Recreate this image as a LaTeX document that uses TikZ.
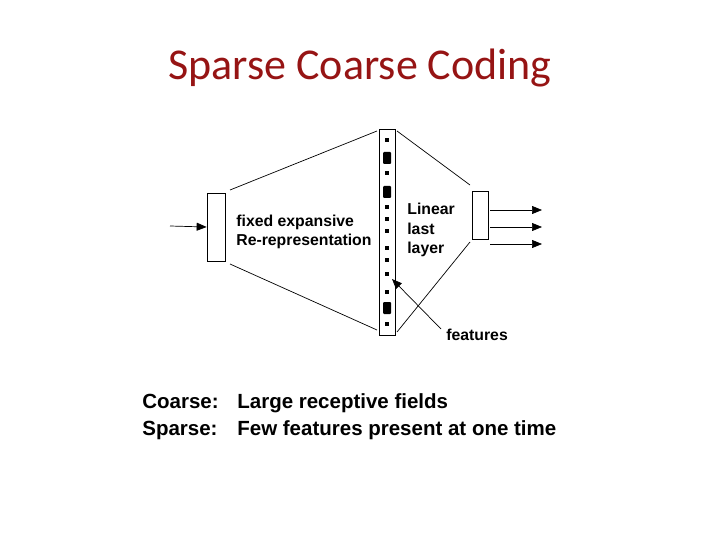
\documentclass[tikz,border=0pt]{standalone}
\usepackage{fontspec}
\setmainfont{Liberation Sans}
\newfontfamily\titlefont{Carlito}
\definecolor{tred}{RGB}{150,20,20}
\usetikzlibrary{arrows.meta}
\begin{document}
\begin{tikzpicture}[x=1pt,y=-1pt,line width=0.7pt,
  lbl/.style={font=\bfseries\fontsize{15.8}{19.5}\selectfont, align=left, inner sep=0},
  arr/.style={-{Triangle[length=10pt,width=8pt]}},
  dotm/.style={fill=black, minimum width=3.5pt, minimum height=3.5pt, inner sep=0},
  bigm/.style={fill=black, minimum width=8pt, minimum height=12pt, inner sep=0, rounded corners=1pt}]
\useasboundingbox (0,0) rectangle (720,540);
\node[text=tred, font=\titlefont\fontsize{44}{52}\selectfont] (title) at (360,68) {Sparse Coarse Coding};
\node[draw, minimum width=18pt, minimum height=68pt, inner sep=0] (inbox) at (216,227) {};
\node[draw, minimum width=16pt, minimum height=206pt, inner sep=0] (col) at (387,232) {};
\node[draw, minimum width=16pt, minimum height=48pt, inner sep=0] (outbox) at (480,215) {};
\foreach \y [count=\i] in {140,173,207,219,231,248,260,274,292,324} \node[dotm] (d\i) at (387,\y) {};
\foreach \y [count=\i] in {158,192,308} \node[bigm] (b\i) at (387,\y) {};
\coordinate (p1) at (230,190); \coordinate (p2) at (377,131);
\coordinate (p3) at (230,264); \coordinate (p4) at (377,330);
\coordinate (p5) at (397,131); \coordinate (p6) at (470,185);
\coordinate (p7) at (397,332); \coordinate (p8) at (470,242);
\draw (p1) -- (p2); \draw (p3) -- (p4); \draw (p5) -- (p6); \draw (p7) -- (p8);
\coordinate (inS) at (170,226);
\draw[arr] (inS) -- (inbox.west);
\foreach \y [count=\i] in {210,227,244} {\coordinate (o\i) at (542,\y); \draw[arr] (490,\y) -- (o\i);}
\node[lbl, anchor=west] (t1) at (236,232) {fixed expansive\\Re-representation};
\node[lbl, anchor=west] (t2) at (407,230) {Linear\\last\\layer};
\node[lbl, anchor=west] (feat) at (446,335) {features};
\coordinate (fs) at (441,329);
\draw[arr] (fs) -- (392,279);
\node[font=\bfseries\fontsize{20.5}{27}\selectfont, anchor=west, align=left, inner sep=0] (bot) at (142,417) {Coarse:\\Sparse:};
\node[font=\bfseries\fontsize{20.5}{27}\selectfont, anchor=west, align=left, inner sep=0] (bot2) at (237,417) {Large receptive fields\\Few features present at one time};
\end{tikzpicture}
\end{document}
